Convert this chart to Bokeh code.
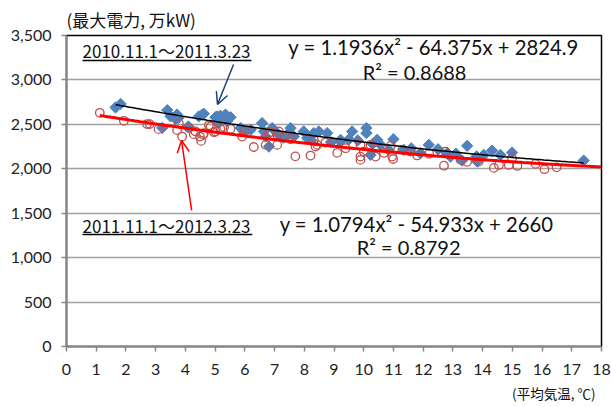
import numpy as np
from bokeh.plotting import figure
from bokeh.models import (Label, Arrow, OpenHead, NumeralTickFormatter, FixedTicker,
                          Range1d, Title)
from bokeh.embed import file_html
from bokeh.resources import INLINE

# ---------------- data ----------------
temp_2010 = [1.65, 1.82, 3.22, 3.39, 3.5, 3.67, 3.72, 3.76, 4.1, 4.45, 4.57, 4.62, 5.01, 5.07,
             5.12, 5.18, 5.35, 5.4, 5.52, 5.86, 5.97, 6.2, 6.58, 6.64, 6.7, 6.81, 6.92, 7.09,
             7.3, 7.48, 7.54, 7.65, 7.98, 8.1, 8.21, 8.32, 8.49, 8.77, 8.9, 9.22, 9.22, 9.5,
             9.61, 9.8, 10.09, 10.09, 10.23, 10.3, 10.45, 10.57, 10.84, 11.0, 11.35, 11.6,
             11.91, 12.19, 12.5, 12.81, 12.92, 13.1, 13.31, 13.48, 13.8, 13.82, 14.04, 14.32,
             14.6, 14.99, 17.4]
power_2010 = [2690, 2730, 2460, 2660, 2590, 2560, 2610, 2570, 2476, 2589, 2610, 2619, 2580, 2589,
              2514, 2597, 2610, 2533, 2580, 2458, 2420, 2440, 2514, 2420, 2363, 2250, 2458, 2401,
              2350, 2401, 2458, 2363, 2420, 2345, 2326, 2401, 2420, 2401, 2300, 2307, 2326, 2330,
              2420, 2320, 2458, 2401, 2156, 2280, 2326, 2269, 2213, 2333, 2213, 2230,
              2175, 2269, 2220, 2175, 2137, 2170, 2092, 2258, 2140, 2081, 2156, 2205,
              2156, 2183, 2092]

temp_2011 = [1.12, 1.93, 2.71, 2.8, 3.1, 3.72, 3.78, 3.89, 4.12, 4.28, 4.34, 4.49, 4.53, 4.6,
             4.62, 4.79, 4.85, 4.96, 5.01, 5.18, 5.3, 5.52, 5.91, 6.0, 6.3, 6.7, 6.81, 6.86,
             7.09, 7.09, 7.14, 7.37, 7.54, 7.7, 8.21, 8.32, 8.38, 8.44, 8.71, 8.99, 9.11,
             9.39, 9.89, 9.89, 9.89, 10.0, 10.23, 10.4, 10.4, 10.68, 10.91, 10.96, 10.99,
             11.3, 11.57, 11.8, 12.2, 12.7, 12.75, 13.26, 13.48, 13.87, 14.38, 14.55, 14.88,
             14.99, 15.17, 15.78, 16.08, 16.49]
power_2011 = [2630, 2540, 2503, 2503, 2446, 2435, 2510, 2363, 2458, 2390, 2420, 2363, 2314, 2382,
              2401, 2490, 2476, 2412, 2420, 2450, 2470, 2450, 2363, 2420, 2245, 2269, 2401, 2412,
              2269, 2382, 2420, 2363, 2333, 2140, 2149, 2326, 2250, 2269, 2296, 2296, 2180,
              2232, 2269, 2137, 2100, 2194, 2269, 2232, 2137, 2180, 2260, 2137, 2110,
              2213, 2194, 2150, 2170, 2035, 2194, 2100, 2078, 2081, 2010, 2043, 2043,
              2119, 2032, 2055, 1995, 2017]

coef_2010 = [1.1936, -64.375, 2824.9]
coef_2011 = [1.0794, -54.933, 2660.0]
r2_2010 = 0.8688
r2_2011 = 0.8792

x_ticks = list(range(0, 19))
y_ticks = list(range(0, 3501, 500))

label_2010 = "2010.11.1～2011.3.23"
label_2011 = "2011.11.1～2012.3.23"
y_title = "(最大電力, 万kW)"
x_title = "(平均気温, ℃)"

LATIN = "Lato"
CJK = "Noto Sans CJK JP"

# ---------------- figure ----------------
p = figure(width=611, height=407, output_backend="svg", toolbar_location=None,
           x_range=Range1d(0, 18), y_range=Range1d(0, 3500),
           min_border_left=66, min_border_right=10, min_border_top=35, min_border_bottom=61)
p.background_fill_color = "white"
p.border_fill_color = "white"
p.outline_line_color = "#000000"
p.outline_line_width = 1.5

for ax, ticks in ((p.xaxis[0], x_ticks), (p.yaxis[0], y_ticks)):
    ax.ticker = FixedTicker(ticks=ticks)
    ax.axis_line_color = "#868686"
    ax.axis_line_width = 2
    ax.major_tick_line_color = "#868686"
    ax.major_tick_line_width = 1.5
    ax.major_tick_out = 5
    ax.major_tick_in = 0
    ax.minor_tick_line_color = None
    ax.major_label_text_font = LATIN
    ax.major_label_text_font_size = "16px"
    ax.major_label_text_color = "#222222"
p.yaxis[0].formatter = NumeralTickFormatter(format="0,0")
p.yaxis[0].major_label_standoff = 10
p.xaxis[0].major_label_standoff = 12

p.xgrid.grid_line_color = None
p.ygrid.ticker = FixedTicker(ticks=y_ticks)
p.ygrid.grid_line_color = "#a0a0a0"
p.ygrid.grid_line_width = 1.5

# axis titles as side-panel titles
p.add_layout(Title(text=y_title, align="left", text_font=CJK, text_font_size="17px",
                   text_font_style="normal", text_color="#111111", standoff=8), "above")
p.add_layout(Title(text=x_title, align="right", offset=6, text_font=CJK,
                   text_font_size="13.5px", text_font_style="normal", text_color="#111111",
                   standoff=7), "below")

# points
p.scatter(temp_2010, power_2010, marker="square", angle=np.pi / 4, size=8,
          fill_color="#4f81bd", line_color="#4f81bd", line_width=1)
p.scatter(temp_2011, power_2011, marker="circle", size=8.5,
          fill_color=None, line_color="#c0504d", line_width=1.3)

# trendlines (polynomial fits shown on the chart)
xs1 = np.linspace(min(temp_2010), max(temp_2010), 200)
p.line(xs1, np.polyval(coef_2010, xs1), line_color="black", line_width=1.5)
xs2 = np.linspace(min(temp_2011), 18, 200)
p.line(xs2, np.polyval(coef_2011, xs2), line_color="#ff0000", line_width=3)

# labels
def lab(x, y, text, font, size, align="left", color="#111111"):
    p.add_layout(Label(x=x, y=y, text=text, text_font=font, text_font_size=size,
                       text_align=align, text_baseline="middle", text_color=color))

lab(0.54, 3331, label_2010, CJK, "17px")
lab(0.54, 1362, label_2011, CJK, "17px")
lab(12.35, 3365, f"y = {coef_2010[0]}x² - {abs(coef_2010[1])}x + {coef_2010[2]}", LATIN, "20.3px", "center")
lab(11.71, 3084, f"R² = {r2_2010}", LATIN, "20px", "center")
lab(11.78, 1374, f"y = {coef_2011[0]}x² - {abs(coef_2011[1])}x + {coef_2011[2]:g}", LATIN, "20.3px", "center")
lab(11.51, 1115, f"R² = {r2_2011}", LATIN, "20px", "center")

# underlines
p.segment(x0=[0.54, 0.54], y0=[3219, 1261], x1=[6.22, 6.25], y1=[3219, 1261],
          line_color="black", line_width=1.5)

# arrows
p.add_layout(Arrow(x_start=5.62, y_start=3174, x_end=5.08, y_end=2724,
                   line_color="#1f3f7f", line_width=1.5,
                   end=OpenHead(size=12, line_color="#1f3f7f", line_width=1.5)))
p.add_layout(Arrow(x_start=4.21, y_start=1531, x_end=3.87, y_end=2319,
                   line_color="#ff0000", line_width=1.5,
                   end=OpenHead(size=12, line_color="#ff0000", line_width=1.5)))

open("out.html", "w").write(file_html(p, INLINE))
